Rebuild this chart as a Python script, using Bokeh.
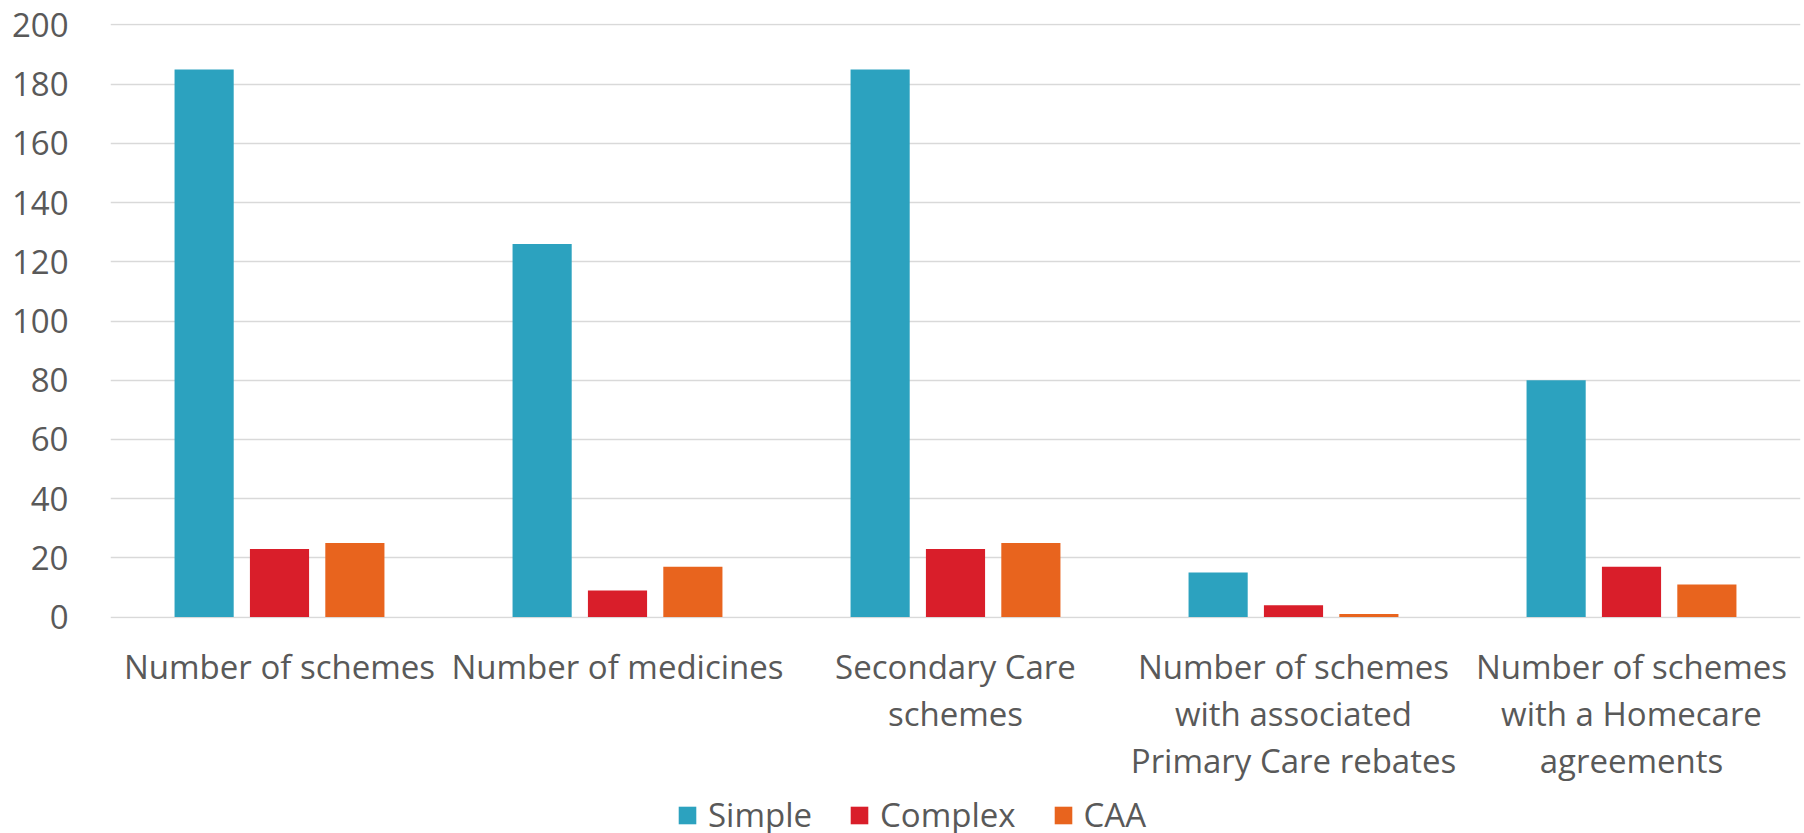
from bokeh.plotting import figure
from bokeh.layouts import column
from bokeh.models import ColumnDataSource, Range1d, Legend, LegendItem, FactorRange, SingleIntervalTicker
from bokeh.transform import dodge
from bokeh.embed import file_html
from bokeh.resources import INLINE

categories = ["Number of schemes", "Number of medicines", "Secondary Care\nschemes",
              "Number of schemes\nwith associated\nPrimary Care rebates",
              "Number of schemes\nwith a Homecare\nagreements"]
series_names = ["Simple", "Complex", "CAA"]
simple = [185, 126, 185, 15, 80]
complex_ = [23, 9, 23, 4, 17]
caa = [25, 17, 25, 1, 11]

source = ColumnDataSource(dict(cat=categories, simple=simple, complex=complex_, caa=caa))

FONT = "Open Sans"
TXT = "#595959"
COLORS = ["#2CA2BF", "#D91E2A", "#E8641E"]
FIELDS = ["simple", "complex", "caa"]
OFFSETS = [-0.223, 0.0, 0.223]

p = figure(x_range=FactorRange(*categories, range_padding=0),
           y_range=Range1d(-0.5, 200.5), output_backend="svg", toolbar_location=None,
           frame_width=1690, frame_height=595,
           min_border_left=110, min_border_right=4, min_border_top=23, min_border_bottom=0)

for f, c, o in zip(FIELDS, COLORS, OFFSETS):
    p.vbar(x=dodge("cat", o, range=p.x_range), top=f, width=0.175, source=source,
           fill_color=c, line_color=None)

p.outline_line_color = None
p.xgrid.grid_line_color = None
p.ygrid.grid_line_color = "#d9d9d9"
p.ygrid.grid_line_width = 1.5
p.yaxis.ticker = SingleIntervalTicker(interval=20)

for ax in (p.xaxis[0], p.yaxis[0]):
    ax.axis_line_color = None
    ax.major_tick_line_color = None
    ax.minor_tick_line_color = None
    ax.major_tick_out = 0
    ax.major_tick_in = 0
    ax.major_label_text_font = FONT
    ax.major_label_text_font_size = "33px"
    ax.major_label_text_color = TXT

p.yaxis.major_label_standoff = 38
p.xaxis.major_label_standoff = 25
p.xaxis.major_label_text_line_height = 1.05

# legend strip below the chart
lf = figure(width=1804, height=60, x_range=p.x_range, y_range=Range1d(1000, 1001),
            output_backend="svg", toolbar_location=None, x_axis_type=None, y_axis_type=None,
            min_border=0)
lf.outline_line_color = None
lf.grid.visible = False
items = []
for name, f, c, o in zip(series_names, FIELDS, COLORS, OFFSETS):
    r = lf.vbar(x=dodge("cat", o, range=lf.x_range), top=f, width=0.175, source=source,
                fill_color=c, line_color=None)
    items.append(LegendItem(label=name, renderers=[r]))

legend = Legend(items=items, orientation="horizontal", location=(566, 9),
                label_text_font=FONT, label_text_font_size="33px", label_text_color=TXT,
                glyph_width=22, glyph_height=22, label_standoff=10, spacing=36,
                border_line_color=None, background_fill_alpha=0, padding=0, margin=0)
lf.add_layout(legend)

open("out.html", "w").write(file_html(column(p, lf, spacing=0), INLINE))
